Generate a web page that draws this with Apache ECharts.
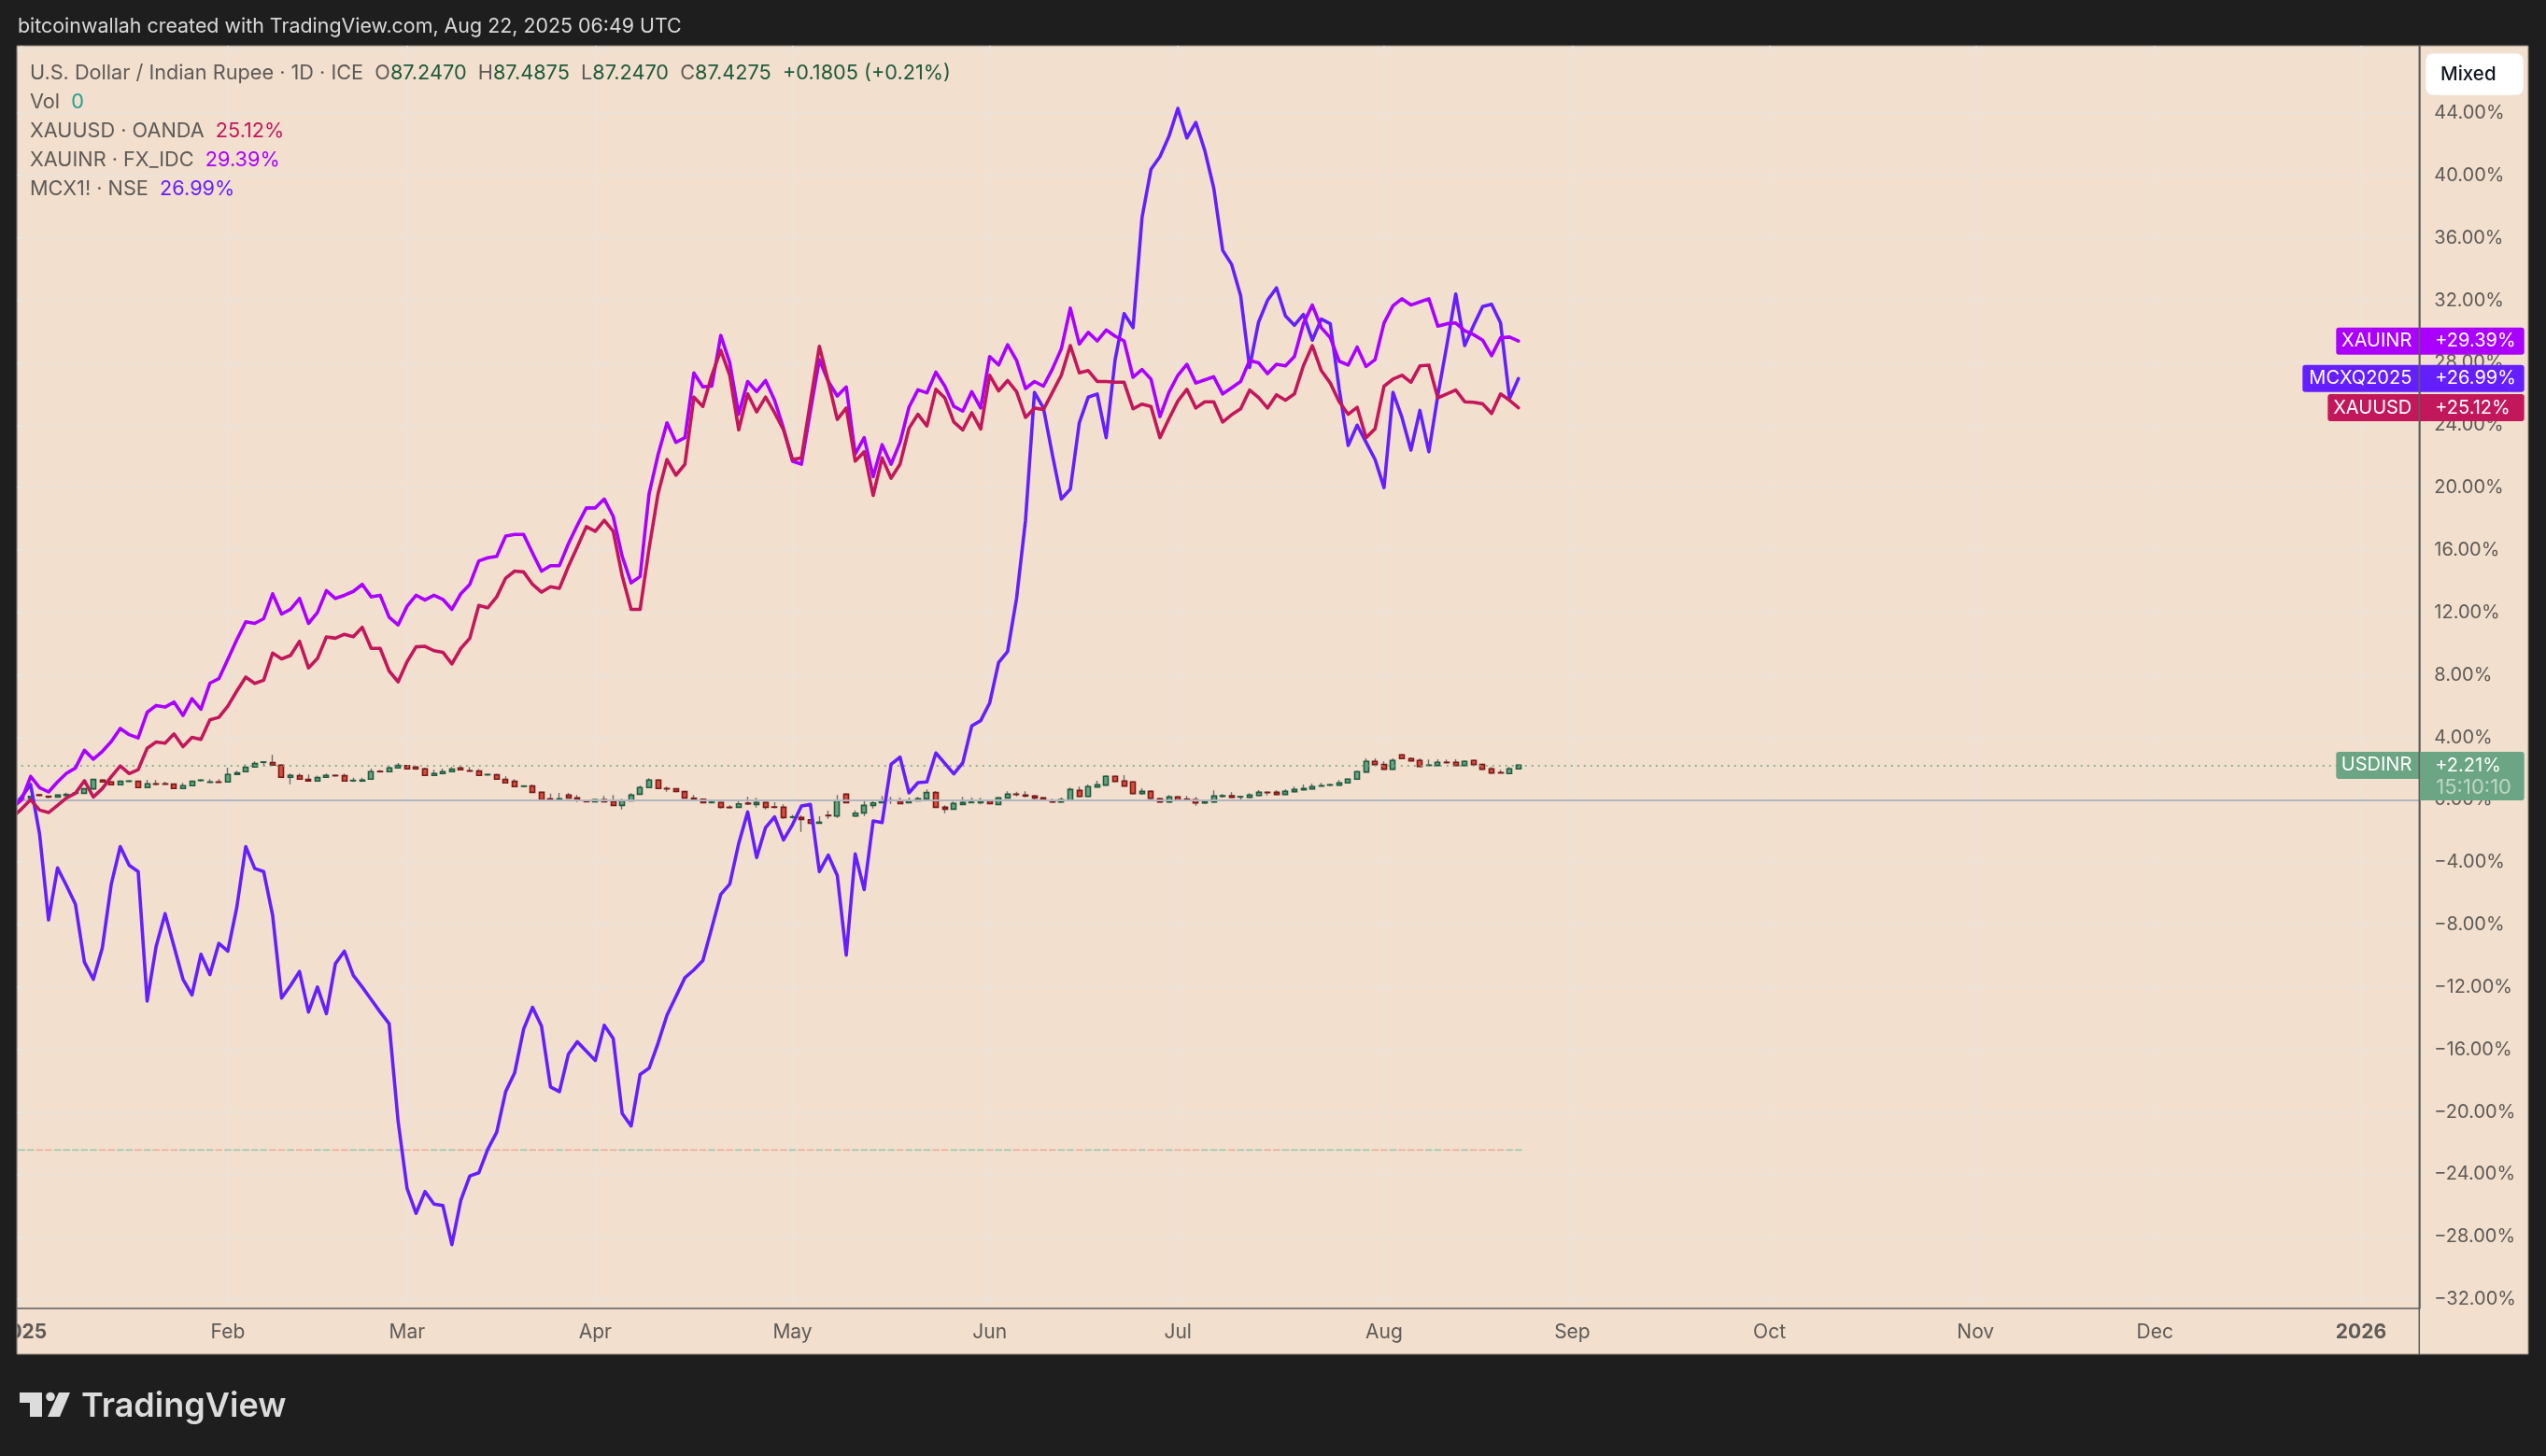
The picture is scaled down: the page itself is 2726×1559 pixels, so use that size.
<!DOCTYPE html>
<html><head><meta charset="utf-8">
<style>html,body{margin:0;padding:0;background:#1e1e1e}#c{width:2726px;height:1559px}</style>
<script src="https://cdn.jsdelivr.net/npm/echarts@6/dist/echarts.min.js"></script>
</head><body><div id="c"></div>
<script>
// ---------- data (percent change, first entry is the bar just left of the frame) ----------
const xauusd=[-1.1,-0.58,0,-0.66,-0.82,-0.36,0.12,0.42,1.22,0.18,
0.72,1.48,2.17,1.68,1.93,3.3,3.7,3.63,4.22,3.4,
4.0,3.87,5.12,5.28,6.0,6.96,7.86,7.46,7.66,9.4,
9.03,9.25,10.15,8.45,9.05,10.43,10.35,10.6,10.45,11.05,
9.7,9.7,8.25,7.56,8.85,9.8,9.83,9.55,9.45,8.7,
9.7,10.35,12.45,12.3,13.0,14.2,14.65,14.6,13.8,13.3,
13.65,13.55,14.95,16.2,17.5,17.2,17.9,17.2,14.35,12.2,
12.2,16.1,19.6,21.8,20.8,21.5,25.8,25.2,27.2,28.8,
27.2,23.7,26.0,24.85,25.8,24.8,23.7,21.8,21.9,25.5,
29.05,26.8,24.37,25.1,21.7,22.3,19.5,21.9,20.6,21.5,
23.8,24.7,23.95,26.3,25.75,24.2,23.7,24.8,23.75,27.2,
26.2,26.86,26.15,24.5,25.1,25.0,26.1,27.2,29.1,27.35,
27.5,26.8,26.8,26.75,26.75,25.05,25.35,25.2,23.2,24.4,
25.55,26.3,25.1,25.5,25.5,24.2,24.67,25.05,26.25,25.77,
25.1,25.95,25.6,26.0,27.8,29.1,27.5,26.7,25.5,24.7,
25.15,23.2,23.77,26.5,26.95,27.2,26.75,27.8,27.85,25.75,
26.0,26.25,25.5,25.47,25.37,24.75,26.0,25.6,25.12];
const xauinr=[-0.5,0,1.5,0.78,0.5,1.14,1.7,2.03,3.17,2.6,
3.1,3.73,4.57,4.17,3.96,5.6,6.04,5.94,6.26,5.4,
6.48,5.8,7.47,7.76,9.0,10.25,11.4,11.3,11.6,13.2,
11.9,12.2,12.9,11.3,12.0,13.4,12.9,13.1,13.35,13.8,
13.0,13.1,11.7,11.2,12.4,13.1,12.8,13.1,12.84,12.2,
13.2,13.8,15.3,15.5,15.6,16.9,17.0,17.0,15.8,14.65,
15.0,15.0,16.4,17.6,18.7,18.7,19.27,18.15,15.6,13.9,
14.3,19.6,22.1,24.15,22.9,23.2,27.35,26.46,26.5,29.75,
28.0,24.7,26.8,26.15,26.86,25.6,23.8,21.7,21.5,24.9,
28.2,26.8,25.87,26.45,22.15,23.2,20.7,22.75,21.5,22.9,
25.15,26.27,26.07,27.4,26.5,25.2,24.9,26.15,25.1,28.4,
27.86,29.15,28.15,26.35,26.8,26.5,27.6,28.9,31.5,29.2,
29.95,29.4,30.1,29.7,29.4,27.07,27.57,26.95,24.55,26.1,
27.2,27.9,26.7,26.9,27.1,26.0,26.4,26.8,28.15,28.0,
27.3,27.9,27.8,28.4,30.5,31.7,30.25,29.6,28.1,27.85,
29.0,27.76,28.2,30.55,31.65,32.1,31.7,31.9,32.1,30.35,
30.5,30.55,30.05,29.8,29.45,28.45,29.6,29.65,29.39];
const mcx=[-0.6,0.18,0.98,-2.2,-7.7,-4.37,-5.5,-6.7,-10.4,-11.5,
-9.5,-5.4,-3.0,-4.2,-4.6,-12.9,-9.4,-7.3,-9.4,-11.5,
-12.5,-9.9,-11.2,-9.2,-9.7,-6.9,-3.0,-4.4,-4.6,-7.4,
-12.7,-11.9,-11.0,-13.6,-12.0,-13.7,-10.5,-9.7,-11.25,-12.0,
-12.8,-13.6,-14.35,-20.6,-24.9,-26.5,-25.1,-25.9,-26.0,-28.5,
-25.65,-24.1,-23.9,-22.4,-21.3,-18.7,-17.5,-14.7,-13.3,-14.5,
-18.4,-18.7,-16.3,-15.5,-16.1,-16.7,-14.45,-15.3,-20.1,-20.9,
-17.6,-17.2,-15.6,-13.8,-12.6,-11.4,-10.9,-10.3,-8.2,-6.06,
-5.4,-2.8,-0.78,-3.7,-1.78,-1.1,-2.57,-1.6,-0.4,-0.3,
-4.6,-3.55,-4.85,-9.95,-3.47,-5.75,-1.36,-1.46,2.27,2.73,
0.44,1.1,1.14,3.0,2.33,1.66,2.37,4.73,5.07,6.2,
8.8,9.5,12.9,17.9,26.1,25.1,22.1,19.27,19.9,24.15,
25.8,26.0,23.2,28.2,31.15,30.25,37.3,40.4,41.2,42.5,
44.3,42.4,43.4,41.6,39.2,35.2,34.3,32.3,27.7,30.6,
32.0,32.8,31.0,30.4,31.1,29.45,30.8,30.5,26.3,22.7,
24.0,22.9,21.8,20.0,26.1,24.5,22.4,24.95,22.3,25.9,
29.1,32.4,29.1,30.4,31.6,31.75,30.55,25.7,26.99];
// USDINR candles: [open, close, low, high]; low/high omitted where no wick shows
const usdinr=[null,
[0,.1],[.1,.22],[.32,.28],[.22,.18,.1],[.18,.3],[.28,.34,.28,.46],[.42,.44],[.42,.7,.42,.74],[.7,1.3],[1.26,1.14,1.14,1.3],
[1.14,.96],[.96,1.18,.96,1.24],[1.18,1.2,1.16,1.24],[1.18,.78,.78,1.24],[.78,1.02,.78,1.28],[1.02,1.0,.94,1.26],[1.02,1.0,1.0,1.16],[1.0,.72,.72,1.04],[.72,.9,.72,1.08],[.9,1.18],
[1.24,1.26,1.16,1.26],[1.12,1.14,1.12,1.32],[1.14,1.12,1.12,1.32],[1.14,1.62,1.14,2.06],[1.62,1.72,1.62,1.86],[1.8,2.08,1.8,2.26],[2.1,2.32,2.1,2.46],[2.4,2.42,2.14,2.46],[2.38,2.22,2.22,2.88],[2.22,1.44],
[1.44,1.56,1.0,1.68],[1.54,1.32,1.32,1.68],[1.3,1.2,1.2,1.62],[1.2,1.42,1.2,1.54],[1.44,1.56,1.44,1.68],[1.56,1.54,1.54,1.6],[1.54,1.2,1.2,1.68],[1.22,1.24,1.14,1.42],[1.2,1.26,1.2,1.42],[1.32,1.8,1.32,2.0],
[1.82,1.8,1.8,1.9],[1.8,2.04,1.8,2.16],[2.04,2.2,2.04,2.36],[2.18,1.98,1.98,2.24],[2.1,1.98,1.9,2.14],[1.98,1.56,1.56,2.06],[1.56,1.68,1.56,1.92],[1.68,1.8,1.62,2.0],[1.8,1.96,1.8,2.1],[2.04,1.92,1.92,2.14],
[1.86,1.84,1.84,2.1],[1.84,1.56,1.56,1.96],[1.6,1.62],[1.6,1.32,1.32,1.66],[1.3,1.08,1.08,1.5],[1.18,.84,.84,1.32],[.86,.88],[.88,.48,.48,.98],[.48,0,0,.5],[.06,.04,.04,.4],
[.04,.06,.04,.44],[.3,.12,.12,.44],[.12,0,-.14,.3],[-.1,-.12,-.12,-.02],[-.12,0],[0,-.12,-.12,.24],[-.12,-.36,-.36,.3],[-.36,-.06,-.62,.06],[-.06,.3,-.06,.42],[.36,.78,.36,.9],
[.78,1.26,.78,1.38],[1.26,.72],[.72,.7,.52,.84],[.7,.54,.48,.72],[.52,.12,.12,.58],[.1,.06,0,.3],[.04,-.18],[-.18,-.16],[-.18,-.48,-.56,-.18],[-.48,-.5,-.5,-.36],
[-.48,-.26,-.48,-.02],[-.22,-.26,-.34,.18],[-.3,-.18,-.5,.12],[-.18,-.48,-.62,-.16],[-.46,-.48,-.54,-.16],[-.48,-1.14,-1.22,-.3],[-1.12,-1.1,-1.2,-.96],[-1.14,-1.26,-2.06,-1.0],[-1.28,-1.5],[-1.5,-1.44,-1.5,-1.06],
[-1.0,-1.02,-1.22,-.7],[-1.04,-.06,-1.16,.3],[.36,-.18,-.2,.4],[-1.04,-.86,-1.04,-.68],[-.84,-.36,-1.04,-.02],[-.36,-.2,-.56,0],[-.18,-.06,-.18,.24],[-.04,-.02,-.26,.18],[-.08,-.24,-.24,.14],[-.18,-.06,-.18,.14],
[-.06,.06,-.06,.18],[.06,.46,.06,.66],[.46,-.48,-.48,.56],[-.48,-.6,-.86,-.36],[-.6,-.24,-.6,-.12],[-.3,-.18,-.3,.18],[-.18,-.16,-.18,.14],[-.18,-.06,-.3,.12],[-.06,-.24],[-.3,.12],
[.12,.36,.12,.54],[.36,.34,.22,.52],[.3,.24,.16,.54],[.24,.12,0,.3],[.12,0,0,.18],[-.02,-.14,-.14,.06],[-.14,0,-.14,.14],[-.02,.66,-.02,.78],[.6,.22,.22,.84],[.22,.84,.22,.98],
[.82,.96,.82,1.22],[.94,1.5,.94,1.56],[1.5,1.18],[1.2,.88,.88,1.58],[1.14,.4],[.4,.54,.34,.74],[.54,.1,.1,.6],[.06,-.14,-.14,.12],[-.14,.18,-.14,.3],[.18,-.02,-.02,.24],
[.04,0,0,.24],[0,-.2,-.38,.18],[-.2,-.12,-.2,-.06],[-.14,.24,-.14,.6],[.22,.26,.14,.36],[.26,.16,.16,.48],[.18,.2,-.02,.26],[.16,.3,.16,.42],[.28,.48,.28,.62],[.48,.46,.28,.52],
[.48,.34,.3,.62],[.34,.54,.34,.68],[.52,.66,.52,.84],[.64,.72,.64,.98],[.7,.84,.7,1.04],[.88,.9,.88,1.08],[.94,.96,.88,1.02],[.94,1.08,.94,1.26],[1.08,1.32],[1.32,1.8],
[1.78,2.46,1.78,2.66],[2.46,2.26,2.26,2.66],[2.26,1.96,1.96,2.46],[1.96,2.52,1.96,2.66],[2.88,2.64],[2.64,2.5,2.5,2.72],[2.52,2.14,2.14,2.66],[2.2,2.22,2.2,2.58],[2.2,2.4,2.2,2.6],[2.4,2.38,2.38,2.58],
[2.4,2.2,2.2,2.6],[2.2,2.46,2.2,2.52],[2.52,2.26],[2.26,1.96,1.96,2.32],[1.98,1.72,1.66,2.1],[1.74,1.72,1.72,1.92],[1.68,1.98,1.68,2.1],[1.98,2.21,1.98,2.28]];
const volLevel=-22.44;            // flat zero-volume row drawn by the chart
const priceLevel=2.21, baseLevel=0;
const percentTicks=[-32,-28,-24,-20,-16,-12,-8,-4,0,4,8,12,16,20,24,28,32,36,40,44];
const gridTicks=percentTicks.concat([48]);
const monthLabels={'2025-01-01':'2025','2025-02-03':'Feb','2025-03-03':'Mar','2025-04-01':'Apr','2025-05-01':'May','2025-06-02':'Jun','2025-07-01':'Jul','2025-08-01':'Aug','2025-09-01':'Sep','2025-10-01':'Oct','2025-11-03':'Nov','2025-12-01':'Dec','2026-01-01':'2026'};
const badges=[
 {name:'USDINR',text:'+2.21%',sub:'15:10:10',value:2.21,key:'usd'},
 {name:'XAUUSD',text:'+25.12%',value:25.12,key:'xauusd'},
 {name:'MCXQ2025',text:'+26.99%',value:26.99,key:'mcx'},
 {name:'XAUINR',text:'+29.39%',value:29.39,key:'xauinr'}];

// ---------- styles ----------
const FONT='Inter, "Noto Sans", sans-serif';
const DARK='#1e1e1e',PANE='#f2dfce',GRID='#ebe3da',AXIS='#5e5e5e',TXT='#5f5a56',HEAD='#d8d8d8';
const COL={usd:'#6ba583',xauusd:'#c2185b',xauinr:'#aa00ff',mcx:'#651fff'};
const badgeLeft={usd:89,xauusd:98,mcx:125,xauinr:89};

// weekday categories, one band per trading bar
const categories=[];
(function(){let d=new Date(Date.UTC(2024,11,31));
 while(categories.length<269){const w=d.getUTCDay();
  if(w!==0&&w!==6)categories.push(d.toISOString().slice(0,10));
  d=new Date(d.getTime()+864e5);}})();
const hasLabel=(i,v)=>monthLabels[v]!==undefined;

const full=usdinr.map(r=>r?[r[0],r[1],r[2]!==undefined?r[2]:Math.min(r[0],r[1]),r[3]!==undefined?r[3]:Math.max(r[0],r[1])]:'-');
const bodies=usdinr.map(r=>r?[r[0],r[1],Math.min(r[0],r[1]),Math.max(r[0],r[1])]:'-');
const volRow=usdinr.map(()=>volLevel);

const chart=echarts.init(document.getElementById('c'),null,{width:2726,height:1559});
const line=(name,data,color,z)=>({name,type:'line',data,z,showSymbol:false,symbol:'none',silent:true,
  lineStyle:{color,width:3.6,join:'round',cap:'round'},itemStyle:{color},animation:false,clip:true});

const LEG='21.7px '+FONT;
const rich=(x,y,text,styles)=>({type:'text',x,y,z:50,silent:true,style:{text,rich:styles,font:LEG,verticalAlign:'middle',fill:TXT}});
const rs=(c)=>({fontFamily:FONT,fontSize:21.7,fill:c,color:c,verticalAlign:'middle'});

chart.setOption({
 animation:false,
 backgroundColor:DARK,
 grid:{left:8.8,top:49,right:135.7,bottom:158,containLabel:false,outerBoundsMode:'none'},
 xAxis:{type:'category',data:categories,boundaryGap:true,
  axisLine:{show:true,onZero:false,lineStyle:{color:AXIS,width:1.5}},
  axisTick:{show:false,alignWithLabel:true,interval:hasLabel},
  splitLine:{show:true,alignWithLabel:true,interval:hasLabel,lineStyle:{color:GRID,width:1.5}},
  axisLabel:{interval:hasLabel,margin:15,color:TXT,fontFamily:FONT,fontSize:21,hideOverlap:false,
   formatter:v=>{const t=monthLabels[v]||'';return /^\d+$/.test(t)?'{b|'+t+'}':t;},
   rich:{b:{fontFamily:FONT,fontSize:21,fontWeight:700,color:TXT}}}},
 yAxis:{type:'value',position:'right',min:-32.59,max:48.31,scale:true,
  axisLine:{show:true,onZero:false,lineStyle:{color:AXIS,width:1.5}},
  axisTick:{show:false,customValues:gridTicks},
  splitLine:{show:true,lineStyle:{color:GRID,width:1.5}},
  axisLabel:{customValues:percentTicks,margin:16,padding:[3,0,0,0],color:TXT,fontFamily:FONT,fontSize:20,showMinLabel:true,showMaxLabel:true,
   formatter:v=>(v<0?'\u2212':'')+Math.abs(v).toFixed(2)+'%'}},
 graphic:[
  {type:'rect',z:-100,silent:true,shape:{x:18,y:49,width:2689,height:1401},style:{fill:PANE,stroke:'#8f867b',lineWidth:1}},
  {type:'rect',z:40,silent:true,shape:{x:0,y:40,width:18,height:1420},style:{fill:DARK}},
  {type:'line',z:40,silent:true,shape:{x1:18,y1:49,x2:18,y2:1450},style:{stroke:'#8f867b',lineWidth:1}},
  {type:'line',z:41,silent:true,shape:{x1:2590.3,y1:49,x2:2590.3,y2:1450},style:{stroke:AXIS,lineWidth:1.5}},
  {type:'text',z:50,silent:true,x:19,y:29,style:{text:'bitcoinwallah created with TradingView.com, Aug 22, 2025 06:49 UTC',font:'21.4px '+FONT,fill:HEAD,verticalAlign:'middle'}},
  rich(32,78,'{t|U.S. Dollar / Indian Rupee \u00b7 1D \u00b7 ICE}  {t|O}{g|87.2470}  {t|H}{g|87.4875}  {t|L}{g|87.2470}  {t|C}{g|87.4275}  {g|+0.1805 (+0.21%)}',{t:rs(TXT),g:rs('#1e5a3a')}),
  rich(32,109,'{t|Vol}  {v|0}',{t:rs(TXT),v:rs('#22a08e')}),
  rich(32,140,'{t|XAUUSD \u00b7 OANDA}  {v|25.12%}',{t:rs(TXT),v:rs(COL.xauusd)}),
  rich(32,171,'{t|XAUINR \u00b7 FX_IDC}  {v|29.39%}',{t:rs(TXT),v:rs(COL.xauinr)}),
  rich(32,202,'{t|MCX1! \u00b7 NSE}  {v|26.99%}',{t:rs(TXT),v:rs(COL.mcx)}),
  {type:'rect',z:45,silent:true,shape:{x:2597,y:57,width:105,height:45,r:8},style:{fill:'#ffffff',stroke:'#efe7df',lineWidth:1}},
  {type:'text',z:46,silent:true,x:2613,y:80,style:{text:'Mixed',font:'500 20.5px '+FONT,fill:'#131722',verticalAlign:'middle'}},
  {type:'polygon',z:46,silent:true,shape:{points:[[21,1491],[45,1491],[45,1517],[32,1517],[32,1502],[21,1502]]},style:{fill:'#dcdcdc'}},
  {type:'circle',z:46,silent:true,shape:{cx:54,cy:1495.5,r:4.8},style:{fill:'#dcdcdc'}},
  {type:'polygon',z:46,silent:true,shape:{points:[[63,1491],[75,1491],[64,1517],[51,1517]]},style:{fill:'#dcdcdc'}},
  {type:'text',z:46,silent:true,x:87,y:1506,style:{text:'TradingView',font:'600 36px '+FONT,fill:'#dcdcdc',verticalAlign:'middle'}}
 ],
 series:[
  {name:'Vol',type:'scatter',data:volRow,symbol:'rect',symbolSize:[7.5,1.5],z:1,silent:true,animation:false,
   itemStyle:{color:p=>{const r=usdinr[p.dataIndex];return r&&r[1]<r[0]?'#e89a88':'#80bfa8';}}},
  {name:'USDINR wicks',type:'candlestick',data:full,barWidth:1.5,z:3,silent:true,animation:false,
   itemStyle:{color:'#6e6e6e',color0:'#6e6e6e',borderColor:'#6e6e6e',borderColor0:'#6e6e6e',borderWidth:1.4},
   markLine:{silent:true,symbol:'none',animation:false,label:{show:false},data:[
     {yAxis:baseLevel,lineStyle:{color:'#b2b5c0',width:2,type:'solid'}},
     {yAxis:priceLevel,lineStyle:{color:'#6ba583',width:1.5,type:[2,5]}}]}},
  {name:'USDINR',type:'candlestick',data:bodies,barWidth:5.5,z:4,silent:true,animation:false,
   itemStyle:{color:'#6aa583',color0:'#d94f3d',borderColor:'#1f5c3e',borderColor0:'#7a1a1a',borderWidth:1.6}},
  line('MCX1!',mcx,COL.mcx,5),
  line('XAUINR',xauinr,COL.xauinr,6),
  line('XAUUSD',xauusd,COL.xauusd,7),
  {name:'badges',type:'custom',z:20,silent:true,clip:false,animation:false,
   encode:{y:1},
   data:badges.map(b=>[categories.length-1,b.value]),
   renderItem:(params,api)=>{
     const b=badges[params.dataIndex];
     const cy=api.coord([api.value(0),api.value(1)])[1];
     const ax=params.coordSys.x+params.coordSys.width,h=29,col=COL[b.key],top=cy-h/2;
     const lw=badgeLeft[b.key];
     const kids=[
      {type:'rect',shape:{x:ax-lw,y:top,width:lw,height:h,r:[3,0,0,3]},style:{fill:col}},
      {type:'rect',shape:{x:ax,y:top,width:112.4,height:b.sub?52:h,r:[0,3,3,0]},style:{fill:col}},
      {type:'text',x:ax-8,y:top+h/2,style:{text:b.name,fill:'#fff',font:'20px '+FONT,align:'right',verticalAlign:'middle'}},
      {type:'text',x:ax+17,y:top+h/2+(b.sub?1:0),style:{text:b.text,fill:'#fff',font:'20px '+FONT,align:'left',verticalAlign:'middle'}}];
     if(b.sub)kids.push({type:'text',x:ax+18,y:top+38,style:{text:b.sub,fill:'rgba(255,255,255,0.55)',font:'22px '+FONT,align:'left',verticalAlign:'middle'}});
     return {type:'group',children:kids};
   }}
 ]
});
</script></body></html>
